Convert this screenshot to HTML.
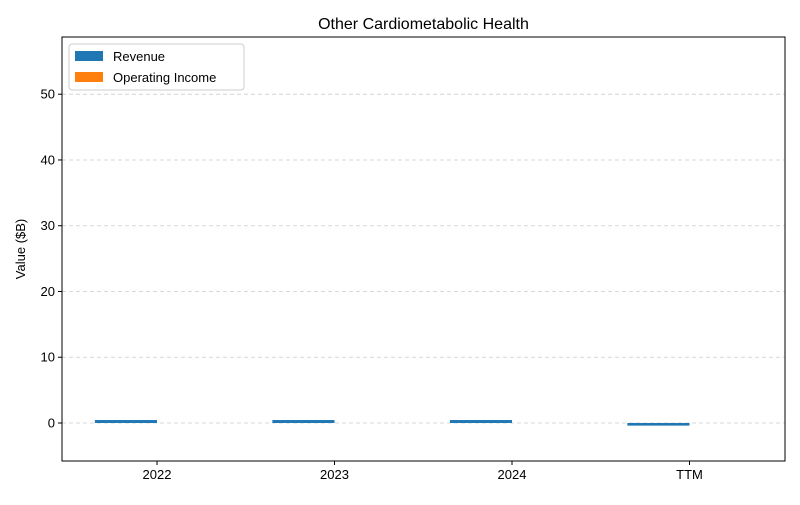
<!DOCTYPE html>
<html><head><meta charset="utf-8"><style>
body{margin:0;background:#fff;font-family:"Liberation Sans","DejaVu Sans",sans-serif}
</style></head><body>
<svg id="chart" width="800" height="500" xmlns="http://www.w3.org/2000/svg">
<text x="423.5" y="29" text-anchor="middle" font-size="16" fill="#000">Other Cardiometabolic Health</text>
<g id="grid"></g>
<g id="bars"></g>
<rect x="62" y="37" width="723" height="424" fill="none" stroke="#000" stroke-width="1"/>
<g id="yticks"></g>
<g id="xticks"></g>
<text transform="translate(25,249) rotate(-90)" text-anchor="middle" font-size="13">Value ($B)</text>
<g>
<rect x="69" y="44" width="175" height="46" fill="#fff" stroke="#ccc" rx="3"/>
<rect x="75" y="51" width="28" height="10" fill="#1f77b4"/>
<text x="113" y="61" font-size="13">Revenue</text>
<rect x="75" y="72" width="28" height="10" fill="#ff7f0e"/>
<text x="113" y="82" font-size="13">Operating Income</text>
</g>
</svg>
<script>
const categories=["2022","2023","2024","TTM"];
const revenue=[0.45,0.45,0.45,-0.4];
const operatingIncome=[0,0,0,0];
const yTicks=[0,10,20,30,40,50];
const NS="http://www.w3.org/2000/svg";
const yMin=-5.78,yMax=58.7,plotTop=37,plotBot=461,plotLeft=62,plotRight=785;
function y(v){return plotBot-(v-yMin)/(yMax-yMin)*(plotBot-plotTop);}
function xc(i){return 157+i*177.5;}
const bw=0.35*177.5;
function mk(t,a){const e=document.createElementNS(NS,t);for(const k in a)e.setAttribute(k,a[k]);return e;}
const grid=document.getElementById('grid'),yt=document.getElementById('yticks'),xt=document.getElementById('xticks'),bars=document.getElementById('bars');
yTicks.forEach(t=>{
 const g=mk('line',{x1:plotLeft,x2:plotRight,y1:y(t),y2:y(t),stroke:'#ccc','stroke-dasharray':'4,3','stroke-width':0.8});
 
 
 grid.appendChild(g);
 const tk=mk('line',{x1:plotLeft-4,x2:plotLeft,y1:y(t),y2:y(t),stroke:'#000'});
 
 
 yt.appendChild(tk);
 const tx=mk('text',{x:plotLeft-7,y:y(t)+4.5,'text-anchor':'end','font-size':13});
 tx.textContent=t;
 
 
 yt.appendChild(tx);
});
categories.forEach((c,i)=>{
 const x=xc(i);
 const tk=mk('line',{x1:x,x2:x,y1:plotBot,y2:plotBot+4,stroke:'#000'});
 
 
 xt.appendChild(tk);
 const tx=mk('text',{x:x,y:plotBot+18,'text-anchor':'middle','font-size':13});
 tx.textContent=c;
 
 
 xt.appendChild(tx);
 [[revenue[i],x-bw,'#1f77b4','bar-revenue-'+c],[operatingIncome[i],x,'#ff7f0e','bar-operating-income-'+c]].forEach(([v,bx,col,nm])=>{
  const y0=Math.min(y(0),y(v)),h=Math.abs(y(v)-y(0));
  const r=mk('rect',{x:bx,y:y0,width:bw,height:h,fill:col});
  
  
  bars.appendChild(r);
 });
});
</script>
</body></html>
